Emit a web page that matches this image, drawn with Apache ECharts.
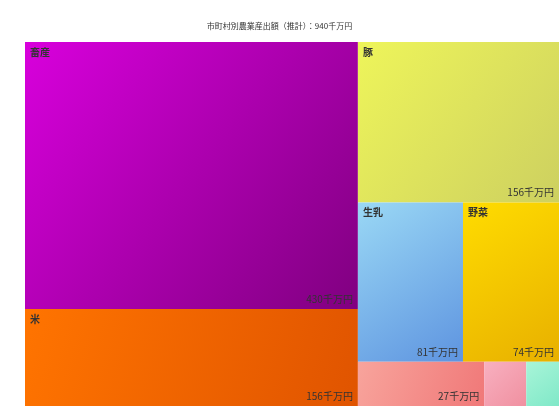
<html>
<head>
<meta http-equiv="Content-Type" content="text/html; charset=utf-8" />
<script src="https://cdn.jsdelivr.net/npm/echarts@6/dist/echarts.min.js"></script>
</head>
<body style="margin:0">
<div id="main" style="height:408px;width:559px;"></div>
<script type="text/javascript">
// 品目と産出額（千万円）
var names = ['畜産', '豚', '米', '生乳', '野菜', '果実', '花き', 'いも類'];
var values = [430, 156, 156, 81, 74, 27, 9, 7];
var colorsFrom = ['#d800dc', '#eef55a', '#ff7400', '#9ad8f5', '#ffdc00', '#f8a49c', '#f8b0c0', '#a8f5d8'];
var colorsTo = ['#800080', '#cdd060', '#e05400', '#5e94e0', '#e8b000', '#f07878', '#f090a0', '#80e8c8'];
var total = 940;

var myChart = echarts.init(document.getElementById('main'));

function grad(i) {
    return new echarts.graphic.LinearGradient(0, 0, 1, 1, [
        {offset: 0, color: colorsFrom[i]},
        {offset: 1, color: colorsTo[i]}
    ]);
}

// 名前ラベル用と値ラベル用（透明）の2系列を重ねる
var nameData = [], valueData = [];
for (var i = 0; i < names.length; i++) {
    nameData.push({name: names[i], value: values[i], itemStyle: {color: grad(i)}, label: {show: values[i] > 50}});
    valueData.push({name: names[i], value: values[i], itemStyle: {color: 'rgba(0,0,0,0)'}, label: {show: values[i] > 20}});
}

var common = {
    type: 'treemap',
    left: 25, right: 0, top: 42, bottom: 2,
    roam: false,
    nodeClick: false,
    breadcrumb: {show: false},
    animation: false,
    levels: [{itemStyle: {borderWidth: 0, gapWidth: 0}}]
};

myChart.setOption({
    title: {
        text: '市町村別農業産出額（推計）：' + total + '千万円',
        left: 'center',
        top: 17,
        textStyle: {fontSize: 8, fontWeight: 'normal', color: '#333', fontFamily: 'Noto Sans CJK JP'}
    },
    series: [
        Object.assign({}, common, {
            data: nameData,
            label: {show: true, position: 'insideTopLeft', formatter: '{b}', color: '#333',
                fontSize: 10, fontFamily: 'Noto Sans CJK JP', fontWeight: 'bold'}
        }),
        Object.assign({}, common, {
            silent: true,
            data: valueData,
            label: {show: true, position: 'insideBottomRight', formatter: '{c}千万円', color: '#333',
                fontSize: 10, fontFamily: 'Noto Sans CJK JP'}
        })
    ]
});
</script>
</body>
</html>
